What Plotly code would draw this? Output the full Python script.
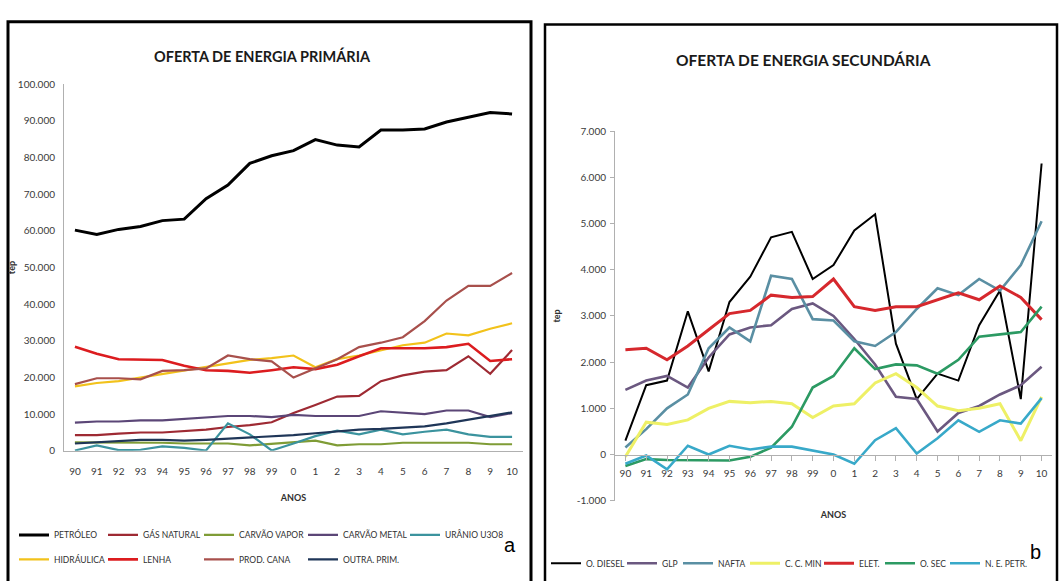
import plotly.graph_objects as go

W, H = 1060, 581

# ---------------- data ----------------
anos = ["90", "91", "92", "93", "94", "95", "96", "97", "98", "99",
        "0", "1", "2", "3", "4", "5", "6", "7", "8", "9", "10"]

# Oferta de energia primária (tep)
petroleo = [60200, 59000, 60400, 61200, 62800, 63200, 68800, 72500, 78400, 80500, 81900,
            84900, 83400, 82900, 87500, 87500, 87800, 89700, 91000, 92300, 91900]
gas_natural = [4300, 4300, 4700, 5000, 5000, 5300, 5800, 6500, 7000, 7800, 10300,
               12500, 14800, 15000, 19000, 20600, 21600, 22000, 25800, 21000, 27500]
carvao_vapor = [2300, 2300, 2200, 2300, 2200, 2000, 2000, 2000, 1500, 2000, 2500,
                2800, 1500, 1800, 1800, 2200, 2200, 2200, 2200, 1800, 1800]
carvao_metal = [7700, 8000, 8000, 8300, 8300, 8700, 9000, 9500, 9500, 9200, 9800,
                9500, 9500, 9500, 10800, 10300, 10000, 11000, 11000, 9200, 10300]
uranio = [100, 1500, 200, 300, 1200, 800, 100, 7500, 4500, 100, 2000,
          4000, 5500, 4500, 5800, 4500, 5200, 5800, 4500, 3800, 3800]
hidraulica = [17600, 18500, 19000, 20000, 20800, 21800, 22800, 24000, 24800, 25300, 26000,
              22800, 25000, 26000, 27500, 28800, 29500, 32000, 31500, 33300, 34800]
lenha = [28400, 26500, 25000, 24800, 24800, 23200, 22000, 21800, 21300, 22000, 22800,
         22300, 23500, 25800, 28000, 28000, 28000, 28300, 29200, 24500, 25000]
prod_cana = [18200, 19800, 19800, 19500, 21800, 22000, 22500, 26000, 25000, 24400, 20000,
             22500, 25000, 28300, 29500, 31000, 35400, 41000, 45000, 45000, 48500]
outra_prim = [2000, 2300, 2800, 3000, 3000, 2800, 3000, 3300, 3500, 4000, 4300,
              4800, 5300, 5800, 6000, 6300, 6700, 7500, 8500, 9300, 10500]

# Oferta de energia secundária (tep)
o_diesel = [300, 1500, 1600, 3100, 1800, 3300, 3850, 4700, 4820, 3800, 4100,
            4850, 5200, 2400, 1200, 1750, 1600, 2800, 3550, 1200, 6300]
glp = [1400, 1600, 1700, 1450, 2100, 2600, 2750, 2800, 3150, 3270, 3000,
       2500, 1950, 1250, 1200, 500, 900, 1050, 1300, 1500, 1900]
nafta = [150, 550, 1000, 1300, 2300, 2750, 2450, 3870, 3800, 2930, 2900,
         2450, 2350, 2650, 3150, 3600, 3450, 3800, 3550, 4100, 5050]
cc_min = [-50, 700, 650, 750, 1000, 1150, 1120, 1150, 1100, 800, 1050,
          1100, 1550, 1750, 1450, 1050, 950, 1000, 1100, 300, 1250]
elet = [2270, 2300, 2050, 2350, 2700, 3050, 3120, 3450, 3400, 3420, 3800,
        3200, 3120, 3200, 3200, 3350, 3500, 3350, 3650, 3400, 2920]
o_sec = [-250, -100, -120, -120, -130, -130, -50, 150, 600, 1450, 1700,
         2300, 1850, 1950, 1930, 1750, 2050, 2550, 2600, 2650, 3200]
ne_petr = [-200, -20, -320, 190, 0, 190, 110, 170, 170, 90, 0,
           -200, 310, 570, 20, 350, 740, 490, 740, 670, 1220]

y1_ticks = [0, 10000, 20000, 30000, 40000, 50000, 60000, 70000, 80000, 90000, 100000]
y1_text = ["0", "10.000", "20.000", "30.000", "40.000", "50.000",
           "60.000", "70.000", "80.000", "90.000", "100.000"]
y2_ticks = [-1000, 0, 1000, 2000, 3000, 4000, 5000, 6000, 7000]
y2_text = ["-1.000", "0", "1.000", "2.000", "3.000", "4.000", "5.000", "6.000", "7.000"]

# ---------------- styling ----------------
FONT = "Lato, Liberation Sans, Arial"
x_idx = list(range(len(anos)))


def px(x):
    return x / W


def py(y):
    return 1 - y / H


fig = go.Figure()

# name, values, colour, width, legend, legend entry width
left_series = [
    ("PETRÓLEO", petroleo, "#000000", 3.0, "legend", 44),
    ("GÁS NATURAL", gas_natural, "#9e2a33", 2.2, "legend", 51),
    ("CARVÃO VAPOR", carvao_vapor, "#7f9c36", 2.2, "legend", 59),
    ("CARVÃO METAL", carvao_metal, "#5b4677", 2.2, "legend", 57),
    ("URÂNIO U3O8", uranio, "#3b939e", 2.2, "legend", 55),
    ("HIDRÁULICA", hidraulica, "#f2c21b", 2.2, "legend2", 44),
    ("LENHA", lenha, "#dc1c1f", 2.6, "legend2", 51),
    ("PROD. CANA", prod_cana, "#a8504c", 2.2, "legend2", 59),
    ("OUTRA. PRIM.", outra_prim, "#1f3658", 2.2, "legend2", 57),
]
for name, vals, col, w, leg, lw in left_series:
    fig.add_trace(go.Scatter(x=x_idx, y=vals, name=name, mode="lines",
                             line=dict(color=col, width=w), xaxis="x", yaxis="y",
                             legend=leg, legendwidth=lw))

right_series = [
    ("O. DIESEL", o_diesel, "#000000", 2.0, 31),
    ("GLP", glp, "#6b5880", 2.6, 11),
    ("NAFTA", nafta, "#5a8fa3", 2.6, 22),
    ("C. C. MIN", cc_min, "#eef066", 3.0, 29),
    ("ELET.", elet, "#d6282d", 3.0, 16),
    ("O. SEC", o_sec, "#2c9a63", 2.6, 20),
    ("N. E. PETR.", ne_petr, "#38a9c9", 2.6, 40),
]
for name, vals, col, w, lw in right_series:
    fig.add_trace(go.Scatter(x=x_idx, y=vals, name=name, mode="lines",
                             line=dict(color=col, width=w), xaxis="x2", yaxis="y2",
                             legend="legend3", legendwidth=lw))

axis_col = "#b0b0b0"
tick_font = dict(family=FONT, size=10, color="#3a3a3a")
atitle_font = dict(family=FONT, size=9, color="#303030")
leg_font = dict(family=FONT, size=8.5, color="#303030")

fig.update_layout(
    width=W, height=H,
    margin=dict(l=0, r=0, t=0, b=0),
    paper_bgcolor="white", plot_bgcolor="white",
    font=dict(family=FONT, color="#303030"),
    showlegend=True,
    xaxis=dict(domain=[px(64), px(523)], range=[-0.5, 20.5], anchor="y",
               tickmode="array", tickvals=x_idx, ticktext=anos,
               showgrid=False, zeroline=False, showline=True, linecolor=axis_col,
               linewidth=1, ticks="", tickfont=tick_font, ticklabelstandoff=11,
               title=dict(text="<b>ANOS</b>", font=atitle_font, standoff=18)),
    yaxis=dict(domain=[py(454), py(79)], range=[0, 100000], anchor="x",
               tickmode="array", tickvals=y1_ticks, ticktext=y1_text,
               showgrid=False, zeroline=False, showline=True, linecolor=axis_col,
               linewidth=1, ticks="", tickfont=tick_font, ticklabelstandoff=6,
               title=dict(text="<b>tep</b>", font=atitle_font, standoff=0)),
    xaxis2=dict(domain=[px(615), px(1052)], range=[-0.5, 20.5], anchor="free",
                position=py(505) + (py(127) - py(505)) * 1000 / 8000,
                tickmode="array", tickvals=x_idx, ticktext=anos, tickson="boundaries",
                showgrid=False, zeroline=False, showline=True, linecolor=axis_col,
                linewidth=1, ticks="outside", ticklen=5, tickcolor=axis_col,
                tickfont=tick_font, ticklabelstandoff=4,
                title=dict(text="<b>ANOS</b>", font=atitle_font, standoff=34)),
    yaxis2=dict(domain=[py(505), py(127)], range=[-1000, 7000], anchor="x2",
                tickmode="array", tickvals=y2_ticks, ticktext=y2_text,
                showgrid=False, zeroline=False, showline=True, linecolor=axis_col,
                linewidth=1, ticks="outside", ticklen=4, tickcolor=axis_col,
                tickfont=tick_font, ticklabelstandoff=2,
                title=dict(text="<b>tep</b>", font=atitle_font, standoff=14)),
    legend=dict(orientation="h", x=px(14), xanchor="left", y=py(540), yanchor="middle",
                font=leg_font, bgcolor="rgba(0,0,0,0)", itemwidth=30, tracegroupgap=0),
    legend2=dict(orientation="h", x=px(14), xanchor="left", y=py(565), yanchor="middle",
                 font=leg_font, bgcolor="rgba(0,0,0,0)", itemwidth=30, tracegroupgap=0),
    legend3=dict(orientation="h", x=px(546), xanchor="left", y=py(569), yanchor="middle",
                 font=leg_font, bgcolor="rgba(0,0,0,0)", itemwidth=30, tracegroupgap=0),
)

fig.update_layout(
    shapes=[
        dict(type="rect", xref="paper", yref="paper", x0=px(8), x1=px(531),
             y0=-0.05, y1=py(15), line=dict(color="black", width=3), layer="above"),
        dict(type="rect", xref="paper", yref="paper", x0=px(545), x1=px(1057),
             y0=-0.05, y1=py(18), line=dict(color="black", width=2.5), layer="above"),
    ],
    annotations=[
        dict(text="<b>OFERTA DE ENERGIA PRIMÁRIA</b>", xref="paper", yref="paper",
             x=px(262), y=py(50), showarrow=False, xanchor="center", yanchor="middle",
             font=dict(family=FONT, size=14.5, color="#1a1a1a")),
        dict(text="<b>OFERTA DE ENERGIA SECUNDÁRIA</b>", xref="paper", yref="paper",
             x=px(803), y=py(54), showarrow=False, xanchor="center", yanchor="middle",
             font=dict(family=FONT, size=15.5, color="#1a1a1a")),
        dict(text="a", xref="paper", yref="paper", x=px(510), y=py(550), showarrow=False,
             xanchor="center", yanchor="middle",
             font=dict(family="Liberation Sans, Arial", size=20, color="#000000")),
        dict(text="b", xref="paper", yref="paper", x=px(1035), y=py(557), showarrow=False,
             xanchor="center", yanchor="middle",
             font=dict(family="Liberation Sans, Arial", size=20, color="#000000")),
    ],
)

fig.write_html("out.html", config={"displayModeBar": False},
               post_script="document.body.style.margin='0px';")
